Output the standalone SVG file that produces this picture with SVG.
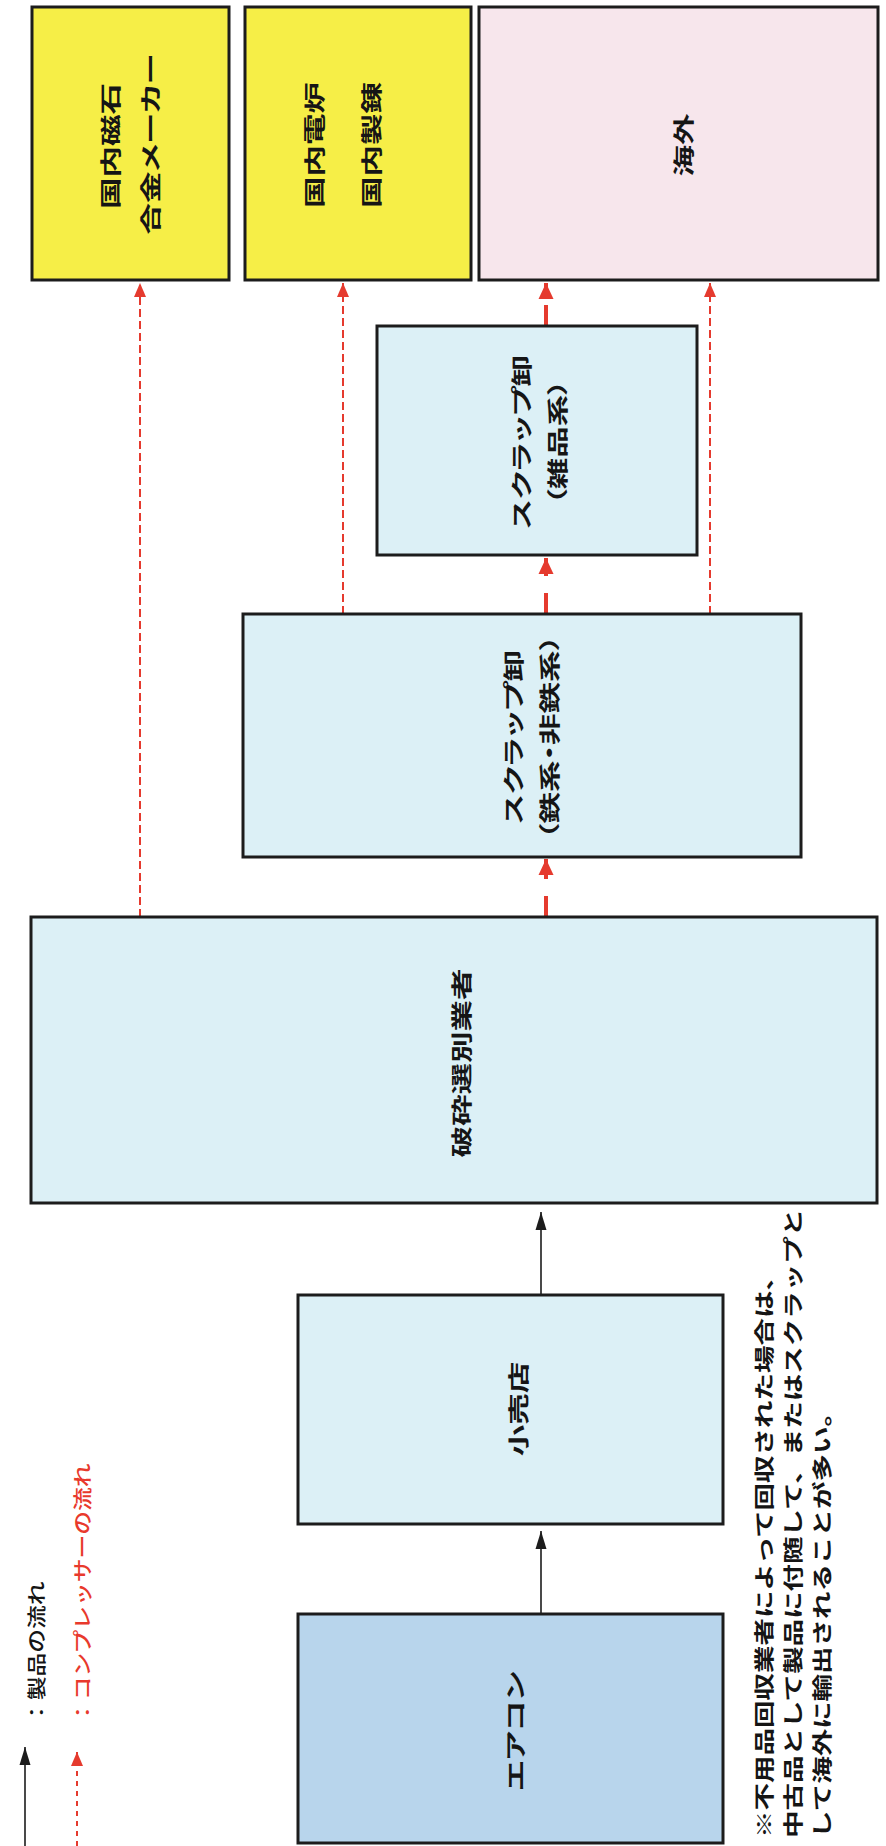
<svg xmlns="http://www.w3.org/2000/svg" width="886" height="1846" viewBox="0 0 886 1846">
<defs>
<style>
.box{stroke:#1c1c1c;stroke-width:3}
.yellow{fill:#f6ee47}
.pink{fill:#f7e6ec}
.lblue{fill:#dcf0f6}
.blue{fill:#b8d5ec}
.t{font-family:"Noto Sans CJK JP","Noto Sans CJK SC",sans-serif;font-weight:700;fill:#151515;text-anchor:middle;dominant-baseline:central}
.bt{font-size:21px;font-feature-settings:"palt"}
.lg{font-size:19px;text-anchor:start;font-weight:500}
.fn{font-size:20px;text-anchor:start}
.red{fill:#e8392c}
.thin{stroke:#e53a2e;stroke-width:2;stroke-dasharray:8 4;fill:none}
.thick{stroke:#e53a2e;stroke-width:4;stroke-dasharray:21 17;fill:none}
.solid{stroke:#1c1c1c;stroke-width:1.6;fill:none}
.lgred{stroke:#e53a2e;stroke-width:2;stroke-dasharray:5 5;fill:none}
</style>
<marker id="ahThin" markerUnits="userSpaceOnUse" markerWidth="14" markerHeight="14" viewBox="0 0 14 14" refX="14" refY="7" orient="auto">
<path d="M0,1 L14,7 L0,13 Z" fill="#e53a2e"/>
</marker>
<marker id="ahThick" markerUnits="userSpaceOnUse" markerWidth="16" markerHeight="16" viewBox="0 0 16 16" refX="16" refY="8" orient="auto">
<path d="M0,0.5 L16,8 L0,15.5 Z" fill="#e53a2e"/>
</marker>
<marker id="ahBlack" markerUnits="userSpaceOnUse" markerWidth="18" markerHeight="12" viewBox="0 0 18 12" refX="18" refY="6" orient="auto">
<path d="M0,0.5 L18,6 L0,11.5 Z" fill="#1c1c1c"/>
</marker>
</defs>
<rect width="886" height="1846" fill="#ffffff"/>

<g id="connectors">
<path class="thin" d="M140,917 V283" marker-end="url(#ahThin)"/>
<path class="thin" d="M343,614 V283" marker-end="url(#ahThin)"/>
<path class="thin" d="M710,614 V283" marker-end="url(#ahThin)"/>
<path class="thick" d="M546,917 V859" marker-end="url(#ahThick)"/>
<path class="thick" d="M546,614 V558" marker-end="url(#ahThick)"/>
<path class="thick" d="M546,326 V283" marker-end="url(#ahThick)"/>
<path class="solid" d="M541,1295 V1212" marker-end="url(#ahBlack)"/>
<path class="solid" d="M541,1614 V1531" marker-end="url(#ahBlack)"/>
</g>

<g id="node-magnet">
<rect class="box yellow" x="32" y="7" width="197" height="273"/>
<text class="t bt" transform="translate(109,146) rotate(-90) scale(1.5,1)">国内磁石</text>
<text class="t bt" transform="translate(149,144) rotate(-90) scale(1.5,1)">合金メーカー</text>
</g>
<g id="node-domestic">
<rect class="box yellow" x="245" y="7" width="226" height="273"/>
<text class="t bt" transform="translate(313,145) rotate(-90) scale(1.5,1)">国内電炉</text>
<text class="t bt" transform="translate(370,145) rotate(-90) scale(1.5,1)">国内製錬</text>
</g>
<g id="node-overseas">
<rect class="box pink" x="479" y="7" width="399" height="273"/>
<text class="t bt" transform="translate(682,145) rotate(-90) scale(1.5,1)">海外</text>
</g>
<g id="node-scrap-misc">
<rect class="box lblue" x="377" y="326" width="320" height="229"/>
<text class="t bt" transform="translate(520,442) rotate(-90) scale(1.5,1)">スクラップ卸</text>
<text class="t bt" transform="translate(556,442) rotate(-90) scale(1.5,1)">（雑品系）</text>
</g>
<g id="node-scrap-metal">
<rect class="box lblue" x="243" y="614" width="558" height="243"/>
<text class="t bt" transform="translate(512,737) rotate(-90) scale(1.5,1)">スクラップ卸</text>
<text class="t bt" transform="translate(548,737) rotate(-90) scale(1.5,1)">（鉄系・非鉄系）</text>
</g>
<g id="node-shredder">
<rect class="box lblue" x="31" y="917" width="846" height="286"/>
<text class="t bt" transform="translate(460,1063) rotate(-90) scale(1.5,1)">破砕選別業者</text>
</g>
<g id="node-retail">
<rect class="box lblue" x="298" y="1295" width="425" height="229"/>
<text class="t bt" transform="translate(517,1409) rotate(-90) scale(1.5,1)">小売店</text>
</g>
<g id="node-aircon">
<rect class="box blue" x="298" y="1614" width="425" height="229"/>
<text class="t bt" transform="translate(514,1731) rotate(-90) scale(1.5,1)">エアコン</text>
</g>

<g id="legend">
<path class="solid" d="M25,1846 V1747" marker-end="url(#ahBlack)"/>
<text class="t lg" transform="translate(36,1724) rotate(-90) scale(1.25,1)">：製品の流れ</text>
<path class="lgred" d="M77,1846 V1752" marker-end="url(#ahThin)"/>
<text class="t lg red" transform="translate(82,1724) rotate(-90) scale(1.25,1)">：コンプレッサーの流れ</text>
</g>

<g id="footnote">
<text class="t fn" transform="translate(763,1838) rotate(-90) scale(1.375,1)">※不用品回収業者によって回収された場合は、</text>
<text class="t fn" transform="translate(792,1838) rotate(-90) scale(1.375,1)">中古品として製品に付随して、またはスクラップと</text>
<text class="t fn" transform="translate(821,1838) rotate(-90) scale(1.375,1)">して海外に輸出されることが多い。</text>
</g>
</svg>
